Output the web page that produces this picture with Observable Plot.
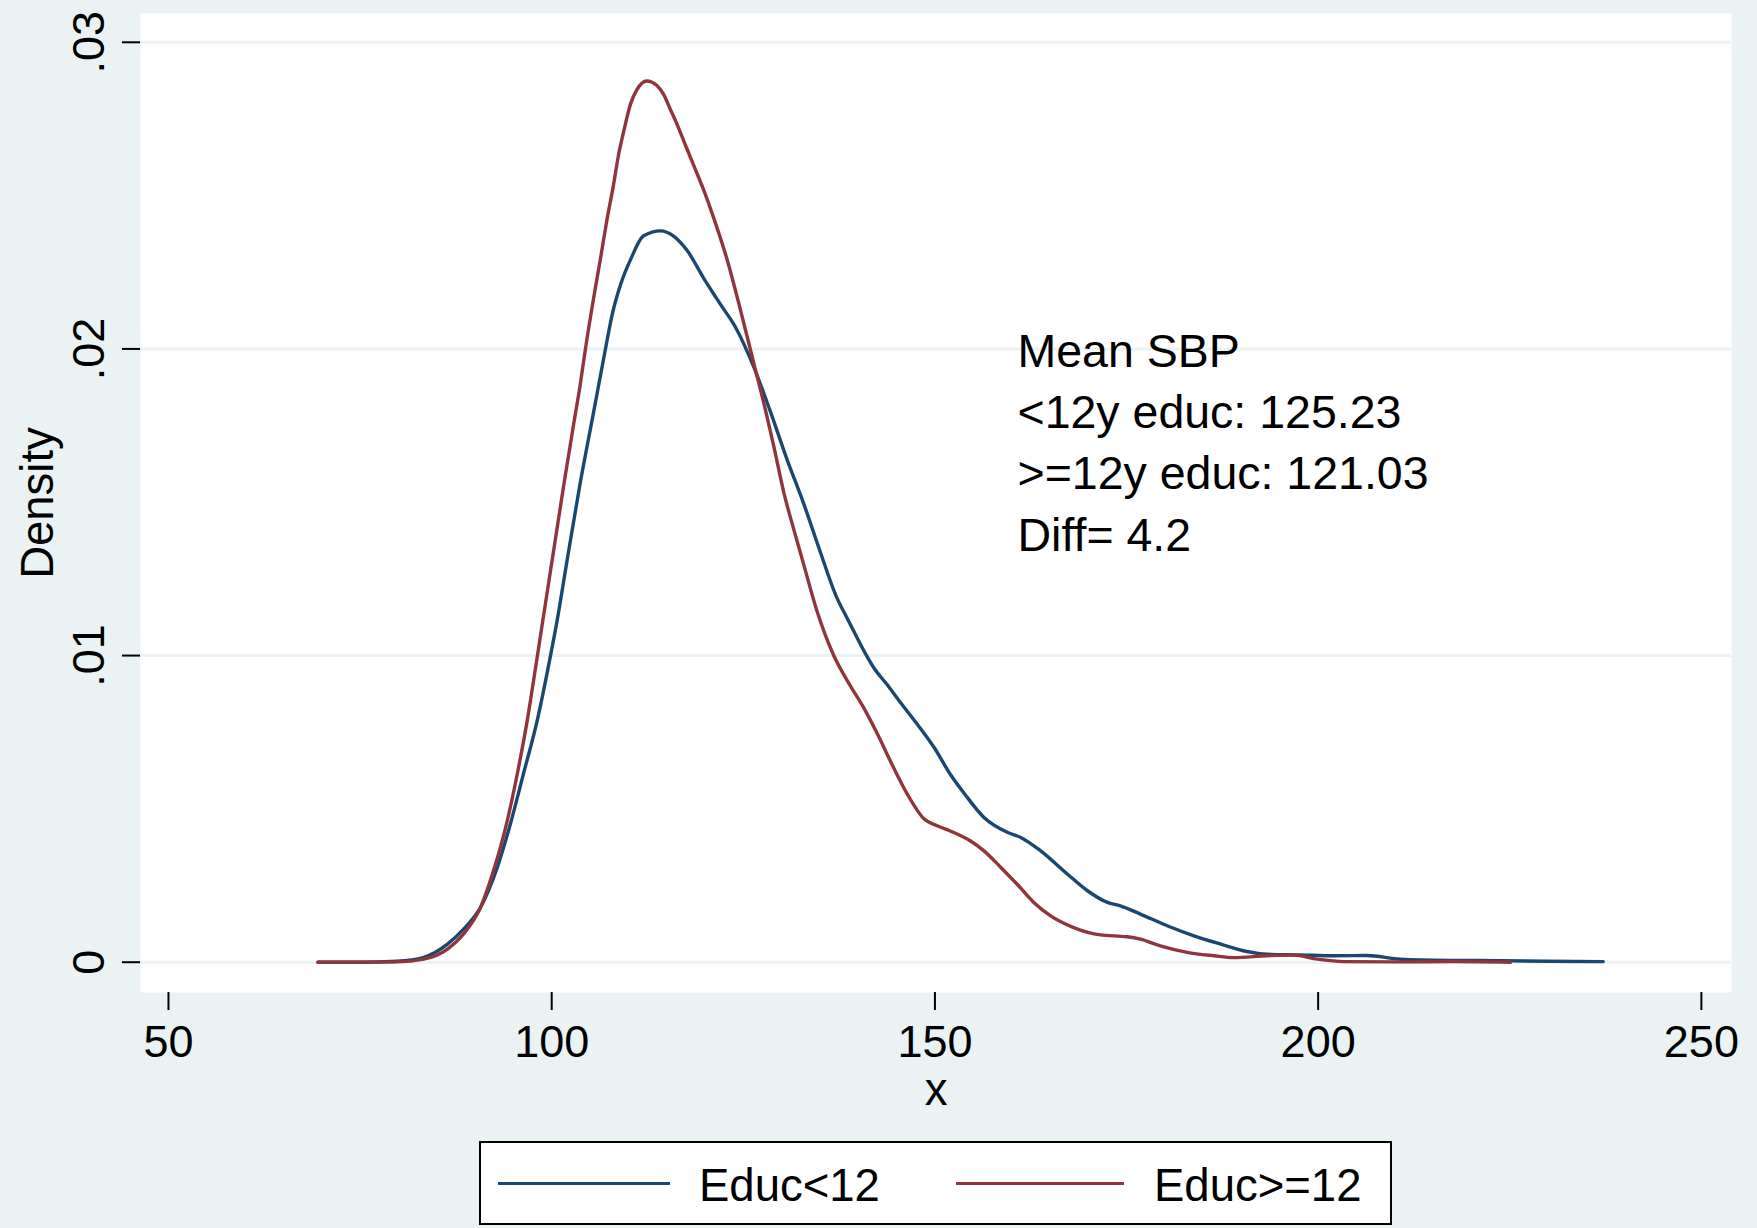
<!DOCTYPE html>
<html>
<head>
<meta charset="utf-8">
<script src="https://cdn.jsdelivr.net/npm/d3@7"></script>
<script src="https://cdn.jsdelivr.net/npm/@observablehq/plot@0.6"></script>
<style>
html, body { margin: 0; padding: 0; background: #EAF2F3; }
#wrap { width: 1757px; height: 1228px; position: relative; font-family: "Liberation Sans", Arial, Helvetica, sans-serif; color: #000; }
#legend { position: absolute; left: 479px; top: 1141px; width: 913px; height: 84px; box-sizing: border-box; border: 2px solid #000; background: #fff; }
.sw { position: absolute; top: 38.5px; height: 3px; }
.lab { position: absolute; top: 20px; font-size: 45.5px; line-height: 45px; white-space: nowrap; }
</style>
</head>
<body>
<div id="wrap"><div id="chart"></div><div id="legend"></div></div>
<script>
// ---- data ----
const seriesNames = ["Educ<12", "Educ>=12"];
const seriesColors = ["#1A476F", "#90353B"];

const educLtX = [69.5, 75, 79.8, 83.3, 86.4, 88.5, 90.7, 92.9, 94.6, 96.3, 98.1, 99.8, 100.7, 102.0, 103.7, 105.5, 107.0, 107.9, 109.0, 110.3, 112.0, 114.2, 115.9, 117.7, 119.8, 122.0, 124.0, 126.4, 128.5, 130.7, 132.9, 135.0, 137.2, 138.5, 139.4, 141.1, 142.0, 143.7, 145.5, 147.7, 149.9, 152.0, 153.9, 156.4, 159.5, 161.2, 163.8, 167.3, 169.9, 172.5, 174.2, 176.8, 180.3, 183.8, 187.3, 190.7, 193.3, 197.7, 202.0, 206.4, 210.7, 217, 223.8, 230, 237.2];
const educLtY = [0, 0, 0.00003, 0.00016, 0.00059, 0.00108, 0.00178, 0.00309, 0.0045, 0.00613, 0.00787, 0.00994, 0.01113, 0.01309, 0.0156, 0.01798, 0.01998, 0.02113, 0.02211, 0.02292, 0.02369, 0.02385, 0.02368, 0.0232, 0.02232, 0.02146, 0.0207, 0.01939, 0.01798, 0.0164, 0.01494, 0.01341, 0.01189, 0.01124, 0.0108, 0.00999, 0.00961, 0.00907, 0.00847, 0.00776, 0.007, 0.00613, 0.00548, 0.00472, 0.00423, 0.00407, 0.00363, 0.00287, 0.00233, 0.00195, 0.00184, 0.00157, 0.00119, 0.00086, 0.00059, 0.00035, 0.00026, 0.00024, 0.00021, 0.00022, 0.0001, 0.00006, 0.00005, 0.00003, 0.00002];

const educGeX = [69.5, 75, 79.8, 83.3, 86.4, 88.5, 90.7, 92.4, 94.2, 95.5, 96.8, 98.1, 99.0, 100.3, 101.6, 102.9, 103.7, 104.4, 105.5, 106.4, 107.2, 108.1, 108.7, 109.4, 110.3, 111.1, 112.4, 113.7, 114.6, 115.5, 116.4, 117.2, 118.5, 119.8, 121.1, 122.9, 124.6, 126.4, 127.9, 129.0, 130.3, 131.6, 132.9, 134.6, 136.8, 139.0, 140.7, 142.5, 144.6, 146.4, 148.6, 150.3, 152.0, 154.6, 156.4, 158.6, 160.7, 162.9, 165.1, 168.1, 171.6, 175.1, 176.8, 179.4, 182.9, 186.4, 189.0, 193.3, 196.8, 199.9, 203.4, 210, 218, 225.1];
const educGeY = [0, 0, 0.00001, 0.0001, 0.00043, 0.00092, 0.00178, 0.00298, 0.00461, 0.00613, 0.00787, 0.00994, 0.0114, 0.0135, 0.0156, 0.0176, 0.0188, 0.0200, 0.0217, 0.0230, 0.0242, 0.0254, 0.0263, 0.0271, 0.0280, 0.02845, 0.02874, 0.0286, 0.0283, 0.0278, 0.0273, 0.0268, 0.0260, 0.0252, 0.0243, 0.0229, 0.0213, 0.0195, 0.0180, 0.0168, 0.0153, 0.0141, 0.01295, 0.01146, 0.0100, 0.0090, 0.0083, 0.00744, 0.00635, 0.00548, 0.00467, 0.00445, 0.00428, 0.00396, 0.00363, 0.00309, 0.00255, 0.00195, 0.00151, 0.00113, 0.00089, 0.00083, 0.00075, 0.00053, 0.00032, 0.00021, 0.00015, 0.00021, 0.00023, 0.0001, 0.00002, 0.00001, 0.00002, 0];

const xTicks = [50, 100, 150, 200, 250];
const yTicks = [0, 0.01, 0.02, 0.03];
const yTickLabels = ["0", ".01", ".02", ".03"];
const xTitle = "x";
const yTitle = "Density";
const noteLines = ["Mean SBP", "<12y educ: 125.23", ">=12y educ: 121.03", "Diff= 4.2"];

// ---- build table ----
const rows = [];
educLtX.forEach((x, i) => rows.push({series: seriesNames[0], x, y: educLtY[i]}));
educGeX.forEach((x, i) => rows.push({series: seriesNames[1], x, y: educGeY[i]}));

const FONT = '"Liberation Sans", Arial, Helvetica, sans-serif';
const noteX = 160.77, noteY = 0.013418;

const chart = Plot.plot({
  width: 1757,
  height: 1125,
  marginTop: 13,
  marginRight: 26,
  marginBottom: 133,
  marginLeft: 140,
  style: {background: "transparent", fontFamily: FONT, fontSize: "45px", color: "#000", overflow: "visible"},
  x: {domain: [46.35, 253.93], label: null},
  y: {domain: [-0.000988, 0.030939], label: null},
  color: {domain: seriesNames, range: seriesColors},
  marks: [
    Plot.frame({fill: "#ffffff", stroke: "none"}),
    Plot.gridY(yTicks, {stroke: "#EAF2F3", strokeOpacity: 1, strokeWidth: 3}),
    Plot.line(rows, {x: "x", y: "y", z: "series", stroke: "series", strokeWidth: 3.4, curve: "monotone-x"}),
    Plot.axisY(yTicks, {tickSize: 18, tickPadding: 19, tickRotate: -90, tickFormat: d => yTickLabels[yTicks.indexOf(d)], line: true, strokeWidth: 2, label: null, fontSize: 45}),
    Plot.axisX(xTicks, {tickSize: 18, tickPadding: 15, tickFormat: d => String(d), line: true, strokeWidth: 2, label: null, fontSize: 45}),
    Plot.text([noteLines.join("\n")], {x: () => noteX, y: () => noteY, text: d => d, textAnchor: "start", lineAnchor: "bottom", lineHeight: 1.318, fontSize: 46.5, fill: "#000"}),
    Plot.text([yTitle], {text: d => d, frameAnchor: "left", rotate: -90, dx: -88, lineAnchor: "bottom", textAnchor: "middle", fontSize: 45.5, fill: "#000"}),
    Plot.text([xTitle], {text: d => d, frameAnchor: "bottom", dy: 112, lineAnchor: "bottom", textAnchor: "middle", fontSize: 45.5, fill: "#000"})
  ]
});
document.getElementById("chart").appendChild(chart);

// ---- legend ----
const legend = document.getElementById("legend");
const swatchLeft = [17, 475], swatchWidth = [172, 168], labelLeft = [218, 673];
seriesNames.forEach((name, i) => {
  const sw = document.createElement("div");
  sw.className = "sw";
  sw.style.left = swatchLeft[i] + "px";
  sw.style.width = swatchWidth[i] + "px";
  sw.style.background = seriesColors[i];
  legend.appendChild(sw);
  const lab = document.createElement("div");
  lab.className = "lab";
  lab.style.left = labelLeft[i] + "px";
  lab.textContent = name;
  legend.appendChild(lab);
});
</script>
</body>
</html>
